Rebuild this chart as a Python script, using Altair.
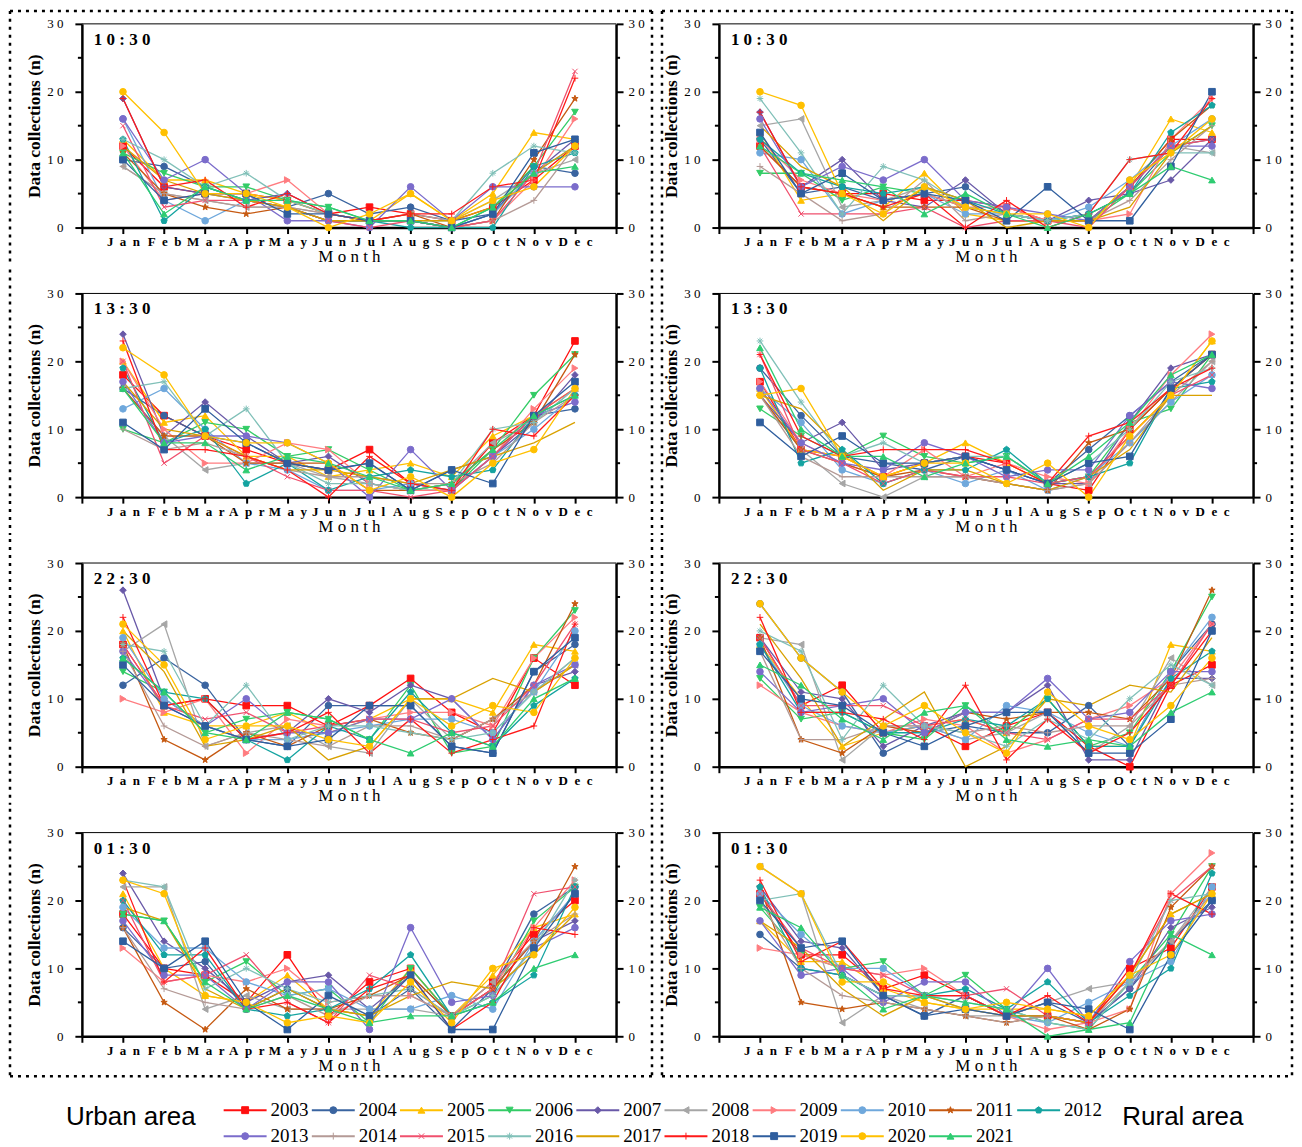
import altair as alt
import pandas as pd

years = [str(y) for y in range(2003, 2022)]
months = list(range(1, 13))
SP = '\u2002'
month_names = ['Jan', 'Feb', 'Mar', 'Apr', 'May', 'Jun', 'Jul', 'Aug', 'Sep', 'Oct', 'Nov', 'Dec']
month_labels = [SP.join(list(m)) for m in month_names]

colors = ['#FF1010', '#3A64A0', '#FFC000', '#33CC66', '#6959A8', '#A6A6A6',
          '#FF7C80', '#6FA8DC', '#C65911', '#14A3A0', '#7B6CCB', '#B49A96',
          '#F0506E', '#80C0B8', '#D9A100', '#FF1A1A', '#2F5E9E', '#FFC000', '#2ECC71']

STAR = "M0,-1L0.235,-0.324L0.951,-0.309L0.38,0.124L0.588,0.809L0,0.4L-0.588,0.809L-0.38,0.124L-0.951,-0.309L-0.235,-0.324Z"
PENT = "M0,-1L0.951,-0.309L0.588,0.809L-0.588,0.809L-0.951,-0.309Z"
PLUS = "M-1,0L1,0M0,-1L0,1"
XSHP = "M-0.8,-0.8L0.8,0.8M-0.8,0.8L0.8,-0.8"
AST = "M-1,0L1,0M0,-1L0,1M-0.7,-0.7L0.7,0.7M-0.7,0.7L0.7,-0.7"
shapes = ['square', 'circle', 'triangle-up', 'triangle-down', 'diamond', 'triangle-left',
          'triangle-right', 'circle', STAR, PENT, 'circle', PLUS,
          XSHP, AST, 'circle', PLUS, 'square', 'circle', 'triangle-up']

# ---------- data (rows: 2003 ... 2021, columns: Jan ... Dec) ----------
urban_1030 = [
    [12, 6, 5, 5, 4, 2, 3, 2, 1, 3, 7, 12],
    [10, 9, 6, 4, 3, 5, 2, 3, 1, 2, 9, 8],
    [13, 7, 7, 5, 4, 2, 1, 5, 1, 5, 14, 13],
    [11, 8, 6, 6, 4, 3, 1, 1, 0, 3, 9, 17],
    [19, 6, 5, 4, 5, 2, 1, 1, 0, 2, 8, 13],
    [9, 5, 4, 3, 3, 2, 1, 2, 1, 4, 8, 10],
    [12, 4, 5, 5, 7, 2, 1, 1, 0, 1, 7, 16],
    [16, 4, 1, 4, 3, 1, 1, 1, 0, 2, 8, 12],
    [11, 5, 3, 2, 3, 1, 1, 2, 0, 1, 10, 19],
    [13, 1, 6, 4, 3, 1, 1, 0, 0, 0, 9, 11],
    [16, 7, 10, 5, 1, 1, 0, 6, 1, 6, 6, 6],
    [9, 5, 4, 3, 3, 2, 1, 1, 0, 1, 4, 12],
    [15, 3, 4, 4, 3, 1, 0, 1, 0, 1, 8, 23],
    [13, 10, 6, 8, 4, 2, 1, 1, 1, 8, 12, 11],
    [12, 7, 5, 4, 3, 1, 1, 1, 1, 3, 8, 12],
    [19, 6, 7, 3, 5, 2, 1, 2, 2, 6, 7, 22],
    [10, 4, 5, 5, 2, 2, 1, 1, 0, 2, 11, 13],
    [20, 14, 5, 5, 3, 0, 2, 5, 1, 4, 6, 12],
    [11, 2, 6, 4, 4, 3, 1, 1, 0, 3, 8, 9],
]
rural_1030 = [
    [12, 6, 5, 5, 4, 4, 3, 1, 1, 6, 13, 13],
    [13, 5, 6, 4, 5, 6, 2, 1, 2, 5, 12, 13],
    [14, 4, 5, 3, 8, 2, 1, 1, 1, 6, 16, 14],
    [8, 8, 4, 6, 5, 3, 2, 1, 1, 5, 11, 15],
    [17, 6, 10, 4, 3, 7, 2, 1, 4, 5, 7, 13],
    [15, 16, 3, 4, 6, 3, 2, 1, 1, 6, 12, 11],
    [13, 7, 5, 4, 5, 3, 3, 1, 1, 2, 13, 19],
    [11, 10, 2, 4, 5, 2, 2, 1, 3, 7, 12, 16],
    [12, 6, 5, 3, 3, 3, 1, 1, 1, 6, 13, 18],
    [13, 8, 6, 5, 6, 4, 2, 1, 2, 5, 14, 18],
    [16, 6, 9, 7, 10, 4, 3, 2, 1, 6, 12, 12],
    [9, 5, 1, 2, 7, 1, 2, 1, 1, 4, 10, 15],
    [12, 2, 2, 2, 3, 0, 1, 1, 0, 6, 12, 13],
    [19, 11, 2, 9, 7, 3, 2, 1, 2, 10, 11, 11],
    [15, 9, 6, 1, 6, 4, 0, 1, 1, 3, 11, 15],
    [17, 6, 5, 3, 5, 0, 4, 0, 2, 10, 11, 19],
    [14, 5, 8, 4, 5, 4, 1, 6, 1, 1, 9, 20],
    [20, 18, 5, 2, 6, 3, 2, 2, 0, 7, 11, 16],
    [12, 8, 7, 6, 2, 5, 2, 0, 2, 5, 9, 7],
]
urban_1330 = [
    [18, 12, 9, 7, 5, 4, 7, 2, 1, 8, 12, 23],
    [16, 12, 9, 8, 5, 4, 5, 1, 4, 6, 12, 13],
    [20, 11, 12, 6, 6, 3, 4, 5, 3, 9, 12, 16],
    [10, 8, 11, 10, 6, 7, 4, 1, 1, 7, 15, 21],
    [24, 9, 14, 9, 5, 6, 2, 1, 1, 6, 11, 18],
    [16, 9, 4, 5, 5, 3, 2, 1, 2, 8, 11, 16],
    [20, 10, 5, 5, 8, 7, 2, 1, 1, 6, 13, 19],
    [13, 16, 10, 5, 4, 1, 1, 2, 1, 6, 10, 15],
    [16, 9, 9, 5, 5, 5, 1, 1, 2, 7, 11, 21],
    [19, 8, 10, 2, 5, 1, 3, 4, 3, 4, 12, 15],
    [17, 8, 9, 9, 8, 5, 0, 7, 1, 6, 12, 14],
    [10, 7, 8, 6, 4, 3, 3, 2, 2, 5, 11, 15],
    [20, 5, 9, 6, 3, 1, 1, 0, 1, 6, 12, 16],
    [16, 17, 9, 13, 5, 2, 2, 1, 2, 10, 11, 16],
    [17, 10, 9, 6, 4, 4, 3, 2, 4, 6, 8, 11],
    [23, 7, 7, 6, 4, 0, 6, 2, 1, 10, 9, 15],
    [11, 7, 13, 8, 5, 4, 5, 1, 4, 2, 12, 17],
    [22, 18, 9, 8, 8, 5, 1, 3, 0, 5, 7, 16],
    [16, 8, 8, 4, 6, 5, 3, 1, 2, 7, 12, 15],
]
rural_1330 = [
    [17, 7, 6, 3, 5, 6, 5, 2, 1, 10, 16, 21],
    [19, 12, 6, 5, 4, 6, 4, 2, 7, 12, 17, 21],
    [16, 7, 6, 3, 5, 8, 5, 2, 3, 9, 15, 23],
    [13, 9, 6, 9, 6, 5, 6, 2, 3, 11, 13, 21],
    [15, 8, 11, 4, 5, 6, 4, 2, 2, 11, 19, 21],
    [15, 7, 2, 0, 3, 3, 2, 1, 2, 8, 14, 20],
    [17, 8, 5, 3, 7, 3, 5, 3, 2, 10, 18, 24],
    [16, 11, 4, 2, 4, 2, 4, 1, 3, 8, 14, 18],
    [15, 7, 5, 3, 4, 3, 2, 1, 8, 10, 16, 21],
    [19, 5, 7, 2, 4, 4, 7, 2, 3, 5, 16, 17],
    [16, 8, 5, 4, 8, 6, 3, 4, 4, 12, 17, 16],
    [15, 6, 3, 3, 3, 3, 2, 1, 2, 8, 15, 20],
    [21, 7, 5, 2, 4, 3, 3, 2, 3, 9, 15, 18],
    [23, 14, 6, 8, 5, 6, 6, 2, 5, 10, 17, 19],
    [15, 13, 7, 1, 4, 4, 2, 1, 3, 7, 15, 15],
    [21, 9, 6, 7, 7, 7, 5, 2, 9, 11, 16, 19],
    [11, 6, 9, 5, 5, 6, 4, 2, 5, 6, 16, 21],
    [15, 16, 6, 3, 5, 5, 2, 5, 0, 9, 15, 23],
    [22, 10, 6, 6, 3, 5, 6, 2, 6, 11, 18, 21],
]
urban_2230 = [
    [18, 9, 10, 9, 9, 6, 9, 13, 8, 5, 16, 12],
    [12, 16, 12, 4, 3, 9, 9, 9, 3, 2, 14, 18],
    [20, 8, 6, 6, 8, 5, 7, 10, 10, 8, 18, 17],
    [14, 11, 5, 7, 8, 7, 4, 12, 2, 3, 16, 23],
    [26, 10, 6, 4, 5, 10, 8, 12, 10, 4, 12, 14],
    [17, 21, 3, 5, 6, 3, 2, 10, 4, 7, 11, 15],
    [10, 8, 10, 2, 7, 6, 7, 8, 8, 6, 16, 22],
    [19, 10, 6, 4, 4, 5, 6, 7, 7, 5, 11, 20],
    [18, 4, 1, 5, 3, 6, 7, 5, 4, 7, 12, 24],
    [16, 11, 10, 4, 1, 6, 4, 11, 5, 3, 9, 13],
    [17, 9, 6, 10, 5, 5, 7, 7, 10, 4, 12, 15],
    [17, 6, 3, 5, 4, 3, 6, 6, 4, 7, 11, 16],
    [18, 9, 7, 8, 5, 6, 7, 7, 5, 6, 12, 21],
    [18, 17, 6, 12, 4, 6, 6, 5, 4, 5, 11, 16],
    [20, 14, 3, 4, 6, 1, 3, 10, 10, 13, 11, 15],
    [22, 9, 10, 4, 5, 8, 2, 7, 2, 4, 6, 21],
    [15, 9, 6, 4, 3, 4, 9, 9, 3, 2, 14, 19],
    [21, 15, 4, 6, 6, 4, 3, 10, 6, 9, 8, 16],
    [16, 11, 5, 4, 8, 7, 4, 2, 5, 3, 10, 13],
]
rural_2230 = [
    [19, 9, 12, 5, 6, 3, 6, 8, 3, 0, 12, 15],
    [24, 16, 11, 2, 5, 6, 5, 5, 9, 3, 14, 21],
    [18, 10, 3, 5, 6, 7, 5, 10, 3, 3, 18, 17],
    [13, 7, 8, 5, 4, 9, 5, 10, 3, 5, 14, 25],
    [19, 11, 10, 3, 6, 8, 8, 12, 1, 1, 13, 13],
    [19, 18, 1, 6, 6, 4, 5, 8, 2, 6, 16, 12],
    [12, 8, 6, 5, 7, 6, 2, 4, 7, 9, 13, 21],
    [18, 9, 6, 5, 6, 4, 9, 8, 5, 3, 14, 22],
    [19, 4, 2, 6, 5, 8, 7, 8, 8, 7, 13, 26],
    [18, 8, 8, 5, 5, 7, 6, 10, 3, 3, 13, 17],
    [14, 8, 9, 10, 5, 8, 8, 13, 7, 8, 14, 14],
    [17, 4, 4, 6, 6, 5, 6, 5, 6, 6, 12, 13],
    [19, 9, 9, 9, 6, 7, 5, 4, 7, 7, 12, 21],
    [20, 17, 4, 12, 6, 5, 3, 7, 4, 10, 15, 12],
    [21, 13, 3, 7, 11, 0, 3, 10, 9, 12, 11, 19],
    [22, 8, 8, 7, 4, 12, 1, 7, 2, 5, 12, 20],
    [17, 10, 9, 5, 3, 6, 8, 8, 2, 2, 7, 20],
    [24, 16, 11, 6, 9, 5, 2, 11, 6, 4, 9, 16],
    [15, 12, 7, 4, 8, 9, 4, 3, 4, 3, 8, 11],
]
urban_0130 = [
    [18, 10, 9, 5, 12, 3, 8, 10, 3, 8, 15, 20],
    [16, 10, 11, 4, 7, 4, 3, 7, 1, 7, 18, 22],
    [21, 10, 6, 5, 9, 4, 3, 10, 3, 9, 16, 18],
    [18, 17, 8, 11, 6, 7, 2, 10, 3, 6, 17, 22],
    [24, 14, 10, 5, 8, 9, 4, 9, 3, 7, 14, 17],
    [22, 22, 4, 6, 4, 4, 4, 4, 3, 8, 14, 21],
    [13, 8, 9, 8, 10, 5, 6, 6, 3, 7, 16, 23],
    [19, 13, 13, 8, 6, 7, 4, 4, 6, 4, 14, 21],
    [16, 5, 1, 7, 4, 4, 6, 9, 3, 7, 14, 25],
    [20, 12, 12, 4, 3, 4, 7, 12, 3, 5, 9, 22],
    [17, 9, 9, 4, 8, 8, 1, 16, 5, 6, 13, 16],
    [16, 7, 5, 4, 6, 3, 6, 6, 3, 8, 14, 18],
    [20, 8, 9, 12, 5, 2, 9, 7, 3, 7, 21, 22],
    [23, 22, 7, 10, 7, 5, 6, 7, 3, 6, 13, 23],
    [19, 17, 7, 4, 7, 4, 3, 6, 8, 7, 12, 18],
    [23, 8, 13, 4, 5, 2, 7, 9, 1, 5, 16, 15],
    [14, 10, 14, 5, 1, 6, 3, 9, 1, 1, 13, 21],
    [23, 21, 6, 5, 2, 3, 2, 8, 2, 10, 12, 19],
    [18, 17, 8, 4, 6, 4, 2, 3, 3, 5, 10, 12],
]
rural_0130 = [
    [21, 12, 12, 7, 9, 6, 3, 3, 2, 10, 13, 22],
    [15, 10, 9, 6, 3, 6, 3, 5, 2, 7, 14, 20],
    [17, 11, 11, 7, 5, 4, 4, 4, 3, 9, 18, 21],
    [19, 12, 10, 11, 6, 9, 4, 2, 1, 8, 15, 25],
    [22, 14, 13, 6, 6, 6, 3, 3, 2, 7, 16, 19],
    [25, 21, 2, 6, 4, 3, 3, 5, 7, 8, 14, 22],
    [13, 12, 10, 9, 10, 6, 3, 1, 2, 4, 21, 27],
    [21, 15, 10, 10, 6, 4, 3, 2, 5, 8, 11, 22],
    [22, 5, 4, 5, 4, 3, 2, 3, 1, 4, 19, 25],
    [22, 10, 9, 6, 6, 7, 4, 8, 2, 6, 10, 24],
    [17, 9, 10, 5, 8, 8, 3, 10, 2, 11, 17, 18],
    [20, 10, 6, 5, 4, 3, 2, 3, 2, 8, 14, 21],
    [21, 13, 10, 9, 6, 6, 7, 3, 2, 9, 20, 25],
    [20, 21, 9, 6, 6, 5, 4, 2, 1, 8, 20, 21],
    [17, 13, 7, 3, 6, 4, 3, 3, 2, 9, 18, 21],
    [23, 11, 14, 7, 6, 6, 3, 6, 2, 9, 21, 18],
    [20, 13, 14, 6, 3, 4, 3, 5, 4, 1, 12, 20],
    [25, 21, 8, 8, 5, 4, 5, 4, 3, 9, 12, 21],
    [19, 16, 9, 4, 6, 5, 4, 0, 1, 2, 15, 12],
]

panel_labels = ['1 0 : 3 0', '1 3 : 3 0', '2 2 : 3 0', '0 1 : 3 0']
minor_ticks = [5, 15, 25]

# ---------- layout constants ----------
W, H = 535, 204
SERIF = 'Liberation Serif'

cscale = alt.Scale(domain=years, range=colors)
sscale = alt.Scale(domain=years, range=shapes)
yscale = alt.Scale(domain=[0, 30], nice=False, zero=True)
xscale = alt.Scale(domain=[0, 13], nice=False, zero=False)

label_arr = "[" + ",".join("'" + m + "'" for m in month_labels) + "]"
xaxis = alt.Axis(values=list(range(0, 14)),
                 labelExpr=f"datum.value >= 1 && datum.value <= 12 ? {label_arr}[datum.value - 1] : ''",
                 tickSize=6, tickWidth=2, tickColor='black', domainWidth=2.5, domainColor='black',
                 labelFont=SERIF, labelFontWeight='bold', labelFontSize=13, labelColor='black',
                 labelPadding=2, labelOverlap=False, labelFlush=False,
                 title='M o n t h', titleFont=SERIF, titleFontWeight='normal', titleFontSize=17,
                 titleColor='black', titlePadding=0, grid=False)

ylabel_expr = "datum.value == 0 ? '0' : (floor(datum.value / 10) + ' 0')"
yaxis_left = alt.Axis(values=[0, 10, 20, 30], labelExpr=ylabel_expr, orient='left',
                      tickSize=7, tickWidth=2, tickColor='black', domainWidth=2.5, domainColor='black',
                      labelFont=SERIF, labelFontSize=13, labelColor='black', labelPadding=12,
                      title='Data collections (n)', titleFont=SERIF, titleFontWeight='bold',
                      titleFontSize=17.5, titleColor='black', titlePadding=3, grid=False)
yaxis_right = alt.Axis(values=[0, 10, 20, 30], labelExpr=ylabel_expr, orient='right',
                       tickSize=7, tickWidth=2, tickColor='black', domainWidth=2.5, domainColor='black',
                       labelFont=SERIF, labelFontSize=13, labelColor='black', labelPadding=5,
                       title=None, grid=False)

one = pd.DataFrame({'k': [0]})


def dotted(x1, x2, y1, y2):
    return alt.Chart(one).mark_rule(color='black', strokeWidth=2.5, strokeDash=[3, 5]).encode(
        x=alt.value(x1), x2=alt.value(x2), y=alt.value(y1), y2=alt.value(y2))


def panel(values, label, xl, xr, ytop, ybot, draw_top, draw_bottom):
    rows = []
    for yr, vals in zip(years, values):
        for m, v in zip(months, vals):
            rows.append({'year': yr, 'month': m, 'value': v})
    df = pd.DataFrame(rows)
    base = alt.Chart(df)
    lines = base.mark_line(strokeWidth=1.3).encode(
        x=alt.X('month:Q', scale=xscale, axis=xaxis),
        y=alt.Y('value:Q', scale=yscale, axis=yaxis_left),
        color=alt.Color('year:N', scale=cscale, legend=None),
        detail='year:N')
    points = base.transform_filter(alt.datum.year != '2017').mark_point(
        filled=True, size=44, strokeWidth=1, opacity=1).encode(
        x=alt.X('month:Q', scale=xscale, axis=xaxis),
        y=alt.Y('value:Q', scale=yscale, axis=None),
        color=alt.Color('year:N', scale=cscale, legend=None),
        stroke=alt.Stroke('year:N', scale=cscale, legend=None),
        shape=alt.Shape('year:N', scale=sscale, legend=None))
    mdf = pd.DataFrame({'minor': minor_ticks})
    right_minor = alt.Chart(mdf).mark_rule(color='black', strokeWidth=2).encode(
        y=alt.Y('minor:Q', scale=yscale, axis=yaxis_right),
        x=alt.value(W), x2=alt.value(W + 4))
    left_minor = alt.Chart(mdf).mark_rule(color='black', strokeWidth=2).encode(
        y=alt.Y('minor:Q', scale=yscale, axis=None),
        x=alt.value(-4), x2=alt.value(0))
    top_line = alt.Chart(one).mark_rule(color='black', strokeWidth=1).encode(
        x=alt.value(0), x2=alt.value(W), y=alt.value(0))
    text = alt.Chart(pd.DataFrame({'t': [label]})).mark_text(
        align='left', baseline='middle', font=SERIF, fontWeight='bold', fontSize=17,
        color='black').encode(x=alt.value(12), y=alt.value(16), text='t:N')
    layers = [lines, points, right_minor, left_minor, top_line, text,
              dotted(xl, xl, ytop, ybot), dotted(xr, xr, ytop, ybot)]
    if draw_top:
        layers.append(dotted(xl, xr, ytop, ytop))
    if draw_bottom:
        layers.append(dotted(xl, xr, ybot, ybot))
    return alt.layer(*layers).resolve_axis(y='independent').properties(width=W, height=H)


def column(datasets, xl, xr):
    charts = []
    n = len(datasets)
    for i, (vals, lab) in enumerate(zip(datasets, panel_labels)):
        ytop = -13 if i == 0 else -24
        ybot = H + 40 if i == n - 1 else H + 38
        charts.append(panel(vals, lab, xl, xr, ytop, ybot, i == 0, i == n - 1))
    return alt.vconcat(*charts, spacing=0)


left_col = column([urban_1030, urban_1330, urban_2230, urban_0130], -72, W + 36)
right_col = column([rural_1030, rural_1330, rural_2230, rural_0130], -57, W + 39)
top = alt.hconcat(left_col, right_col, spacing=6)

# ---------- custom legend (origin aligned with the left panels' plot area) ----------
LW, LH = 1205, 39
leg_rows = []
for i, yr in enumerate(years):
    c, r = i % 10, i // 10
    leg_rows.append({'year': yr, 'x0': c, 'x1': c + 0.487, 'xm': c + 0.2435,
                     'xt': c + 0.532, 'row': r})
leg = pd.DataFrame(leg_rows)
lx = alt.Scale(domain=[-1.608, 12.038], nice=False, zero=False)
ly = alt.Scale(domain=[-0.5, 1.0], nice=False, zero=False, reverse=True)
lbase = alt.Chart(leg)
l_rules = lbase.mark_rule(strokeWidth=2).encode(
    x=alt.X('x0:Q', scale=lx, axis=None), x2='x1:Q',
    y=alt.Y('row:Q', scale=ly, axis=None),
    color=alt.Color('year:N', scale=cscale, legend=None))
l_points = lbase.transform_filter(alt.datum.year != '2017').mark_point(
    filled=True, size=48, strokeWidth=1, opacity=1).encode(
    x=alt.X('xm:Q', scale=lx, axis=None),
    y=alt.Y('row:Q', scale=ly, axis=None),
    color=alt.Color('year:N', scale=cscale, legend=None),
    stroke=alt.Stroke('year:N', scale=cscale, legend=None),
    shape=alt.Shape('year:N', scale=sscale, legend=None))
l_text = lbase.mark_text(align='left', baseline='middle', font=SERIF, fontSize=19,
                         color='black').encode(
    x=alt.X('xt:Q', scale=lx, axis=None),
    y=alt.Y('row:Q', scale=ly, axis=None),
    text='year:N')
area_df = pd.DataFrame({'t': ['Urban area', 'Rural area'], 'x': [-1.053, 10.88], 'row': [0.25, 0.25]})
l_area = alt.Chart(area_df).mark_text(align='center', baseline='middle', font='Liberation Sans',
                                      fontSize=26, color='black').encode(
    x=alt.X('x:Q', scale=lx, axis=None),
    y=alt.Y('row:Q', scale=ly, axis=None),
    text='t:N')
legend_chart = alt.layer(l_rules, l_points, l_text, l_area).properties(width=LW, height=LH)

chart = alt.vconcat(top, legend_chart, spacing=19, padding=0).configure_view(
    strokeWidth=0).configure_axis(grid=False)

chart.save("out.html", embed_options={"renderer": "svg", "actions": False})
